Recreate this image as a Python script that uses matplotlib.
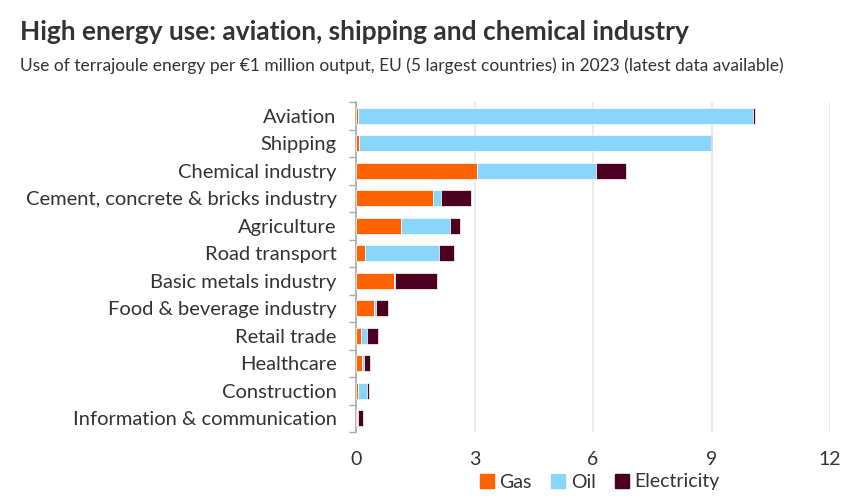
import numpy as np
import matplotlib.pyplot as plt
from matplotlib.patches import Patch

categories = ["Aviation", "Shipping", "Chemical industry",
              "Cement, concrete & bricks industry", "Agriculture",
              "Road transport", "Basic metals industry",
              "Food & beverage industry", "Retail trade", "Healthcare",
              "Construction", "Information & communication"]
gas = [0.05, 0.08, 3.06, 1.95, 1.14, 0.24, 0.95, 0.45, 0.12, 0.15, 0.04, 0.02]
oil = [10.0, 8.91, 3.02, 0.20, 1.23, 1.87, 0.04, 0.05, 0.17, 0.04, 0.25, 0.02]
electricity = [0.05, 0.02, 0.76, 0.76, 0.27, 0.37, 1.05, 0.30, 0.26, 0.16, 0.04, 0.14]
xticks = [0, 3, 6, 9, 12]

c_gas, c_oil, c_el = "#FF6200", "#89D6FD", "#4B0020"
txt = "#333333"
plt.rcParams['font.family'] = ['Lato', 'DejaVu Sans']

fig = plt.figure(figsize=(8.6, 5.04), dpi=100)
ax = fig.add_axes([356/860, 1-432/504, (830-356)/860, (432-102)/504])

y = np.arange(len(categories))
gas = np.array(gas); oil = np.array(oil); electricity = np.array(electricity)
h = 0.58
ax.barh(y, gas, height=h, color=c_gas, edgecolor="white", linewidth=0.5, zorder=3)
ax.barh(y, oil, left=gas, height=h, color=c_oil, edgecolor="white", linewidth=0.5, zorder=3)
ax.barh(y, electricity, left=gas+oil, height=h, color=c_el, edgecolor="white", linewidth=0.5, zorder=3)

ax.set_ylim(len(categories)-0.5, -0.5)
ax.set_xlim(0, 12)
ax.set_yticks(y)
ax.set_yticklabels(categories, fontsize=14.5, color=txt)
ax.tick_params(axis='y', length=0, pad=14)
ax.set_yticks(np.arange(-0.5, len(categories)), minor=True)
ax.tick_params(axis='y', which='minor', length=5, color="#aaaaaa", width=1)
ax.set_xticks(xticks)
ax.set_xticklabels([str(t) for t in xticks], fontsize=14, color=txt)
ax.tick_params(axis='x', length=0, pad=14)
ax.xaxis.grid(True, color="#e6e6e6", linewidth=1.2, zorder=0)
for s in ["top", "right", "bottom"]:
    ax.spines[s].set_visible(False)
ax.spines["left"].set_color("#aaaaaa")
ax.spines["left"].set_linewidth(1.2)

fig.text(20/860, 1-32/504, "High energy use: aviation, shipping and chemical industry",
         fontsize=19, fontweight='bold', color=txt, va='center', ha='left')
fig.text(20/860, 1-66/504, "Use of terrajoule energy per €1 million output, EU (5 largest countries) in 2023 (latest data available)",
         fontsize=12.5, color=txt, va='center', ha='left')

handles = [Patch(color=c_gas, label="Gas"), Patch(color=c_oil, label="Oil"),
           Patch(color=c_el, label="Electricity")]
fig.legend(handles=handles, loc='center', bbox_to_anchor=(600/860, 1-482/504), ncol=3,
           frameon=False, fontsize=14, handlelength=0.7, handleheight=0.7,
           handletextpad=0.3, columnspacing=1.0, labelcolor=txt)

fig.savefig("out.png", dpi=100)
